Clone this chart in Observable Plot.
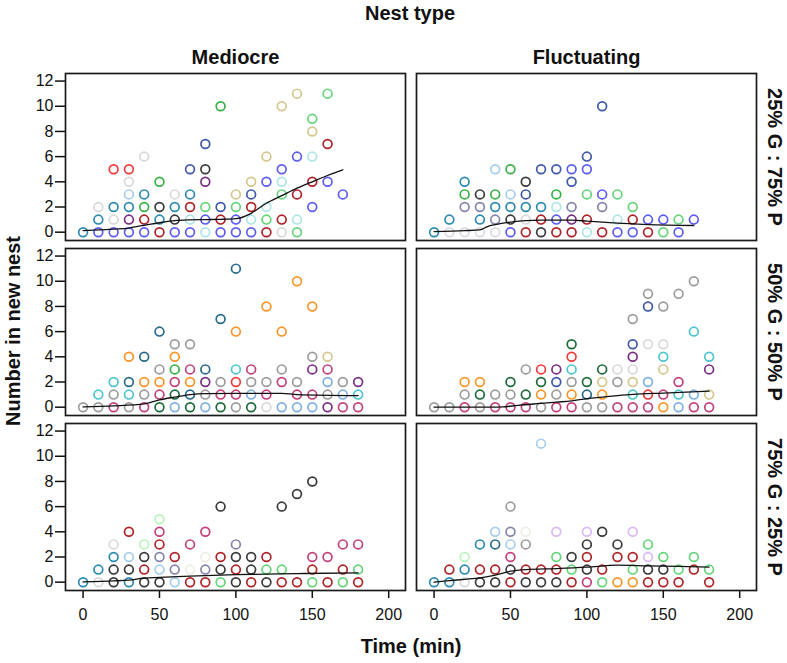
<!DOCTYPE html>
<html>
<head>
<meta charset="utf-8">
<script src="https://cdn.jsdelivr.net/npm/d3@7"></script>
<script src="https://cdn.jsdelivr.net/npm/@observablehq/plot@0.6"></script>
<style>
  html, body { margin: 0; padding: 0; background: #fff; }
</style>
</head>
<body>
<div id="chart"></div>
<script>
// ---- categories & ticks ----
const nestTypes = ["Mediocre", "Fluctuating"];
const ratios = ["25% G : 75% P", "50% G : 50% P", "75% G : 25% P"];
const xTicks = [0, 50, 100, 150, 200];
const yTicks = [0, 2, 4, 6, 8, 10, 12];

// ---- colony colours ----
const palette = {
  blue: "#5c5cf2", darkblue: "#3f58aa", teal: "#2b8ab0", darkteal: "#2a6a8a",
  lightblue: "#a6cdee", skyblue: "#7fb0e2", lightcyan: "#ade6e8", cyan: "#4ec5cf",
  red: "#ee3b3b", darkred: "#ad2327", green: "#37b046", mint: "#66d47a",
  lightgreen: "#b8f5b8", darkgreen: "#1d6a3a", lightgray: "#d9d9d9", lavgray: "#dadae6",
  gray: "#9c9c9c", darkgray: "#3a3a3a", purple: "#7a2e84", slate: "#8484ac",
  tan: "#d5c78e", orange: "#f8962b", pink: "#c3417b", lavender: "#dbb9f4", ivory: "#eeeee6"
};

// ---- points: [time (min), number in new nest, colony colour] ----
const mediocre25 = [
  [0,0,"teal"],[10,0,"blue"],[20,0,"blue"],[30,0,"blue"],[40,0,"blue"],[50,0,"darkred"],[60,0,"blue"],[70,0,"blue"],[80,0,"lightcyan"],[90,0,"blue"],[100,0,"blue"],[110,0,"blue"],[120,0,"darkred"],[130,0,"lightgray"],[140,0,"mint"],
  [10,1,"teal"],[20,1,"lightgray"],[30,1,"purple"],[40,1,"darkred"],[50,1,"teal"],[60,1,"darkgray"],[70,1,"lightcyan"],[80,1,"blue"],[90,1,"darkred"],[100,1,"blue"],[110,1,"lightcyan"],[120,1,"mint"],[130,1,"darkred"],[140,1,"lightcyan"],
  [10,2,"lightgray"],[20,2,"teal"],[30,2,"teal"],[40,2,"green"],[50,2,"darkgray"],[60,2,"teal"],[70,2,"darkred"],[80,2,"mint"],[90,2,"darkblue"],[100,2,"mint"],[110,2,"darkred"],[120,2,"lightcyan"],[150,2,"blue"],
  [30,3,"lightblue"],[40,3,"teal"],[60,3,"lightgray"],[70,3,"teal"],[100,3,"tan"],[110,3,"darkblue"],[130,3,"mint"],[140,3,"darkred"],[170,3,"blue"],
  [30,4,"lightgray"],[50,4,"green"],[80,4,"purple"],[110,4,"tan"],[120,4,"blue"],[130,4,"lightcyan"],[150,4,"darkred"],[160,4,"blue"],
  [20,5,"red"],[30,5,"red"],[70,5,"darkblue"],[80,5,"darkgray"],[130,5,"blue"],
  [40,6,"lightgray"],[120,6,"tan"],[140,6,"blue"],[150,6,"lightcyan"],
  [80,7,"darkblue"],[160,7,"darkred"],
  [150,8,"tan"],[150,9,"mint"],
  [90,10,"green"],[130,10,"tan"],
  [140,11,"tan"],[160,11,"mint"]
];
const fluctuating25 = [
  [0,0,"teal"],[10,0,"lavgray"],[20,0,"lavgray"],[30,0,"lavgray"],[40,0,"lavgray"],[50,0,"blue"],[60,0,"darkred"],[70,0,"darkgray"],[80,0,"darkred"],[90,0,"darkred"],[100,0,"lightcyan"],[110,0,"darkred"],[120,0,"blue"],[130,0,"blue"],[140,0,"darkred"],[150,0,"mint"],[160,0,"blue"],
  [10,1,"teal"],[30,1,"teal"],[40,1,"slate"],[50,1,"darkgray"],[60,1,"lightgray"],[70,1,"darkred"],[80,1,"blue"],[90,1,"purple"],[100,1,"darkred"],[120,1,"lightcyan"],[130,1,"darkred"],[140,1,"blue"],[150,1,"blue"],[160,1,"mint"],[170,1,"blue"],
  [20,2,"slate"],[30,2,"slate"],[40,2,"teal"],[50,2,"teal"],[60,2,"teal"],[70,2,"teal"],[80,2,"lightcyan"],[90,2,"slate"],[110,2,"slate"],[130,2,"mint"],
  [20,3,"green"],[30,3,"darkgray"],[40,3,"green"],[50,3,"lightblue"],[60,3,"darkblue"],[80,3,"green"],[100,3,"mint"],[110,3,"blue"],[120,3,"mint"],
  [20,4,"teal"],[60,4,"darkgray"],[90,4,"darkblue"],
  [40,5,"lightblue"],[50,5,"green"],[70,5,"darkblue"],[80,5,"darkblue"],[90,5,"blue"],[100,5,"blue"],
  [100,6,"darkblue"],
  [110,10,"darkblue"]
];
const mediocre50 = [
  [0,0,"gray"],[10,0,"gray"],[20,0,"pink"],[30,0,"gray"],[40,0,"pink"],[50,0,"darkgreen"],[60,0,"skyblue"],[70,0,"darkgreen"],[80,0,"skyblue"],[90,0,"darkgreen"],[100,0,"gray"],[110,0,"darkgreen"],[120,0,"lightgray"],[130,0,"skyblue"],[140,0,"skyblue"],[150,0,"skyblue"],[160,0,"purple"],[170,0,"pink"],[180,0,"pink"],
  [10,1,"cyan"],[20,1,"gray"],[30,1,"cyan"],[40,1,"gray"],[50,1,"pink"],[60,1,"darkgreen"],[70,1,"darkteal"],[80,1,"gray"],[90,1,"pink"],[100,1,"pink"],[110,1,"skyblue"],[120,1,"pink"],[140,1,"pink"],[150,1,"pink"],[160,1,"gray"],[170,1,"skyblue"],[180,1,"cyan"],
  [20,2,"cyan"],[30,2,"darkteal"],[40,2,"orange"],[50,2,"orange"],[60,2,"pink"],[70,2,"orange"],[80,2,"purple"],[90,2,"gray"],[100,2,"red"],[110,2,"gray"],[120,2,"gray"],[130,2,"pink"],[140,2,"gray"],[160,2,"skyblue"],[170,2,"gray"],[180,2,"purple"],
  [50,3,"gray"],[60,3,"green"],[70,3,"pink"],[80,3,"darkteal"],[100,3,"cyan"],[110,3,"pink"],[130,3,"gray"],[150,3,"purple"],[160,3,"pink"],
  [30,4,"orange"],[40,4,"darkteal"],[60,4,"orange"],[150,4,"gray"],[160,4,"tan"],
  [60,5,"gray"],[70,5,"gray"],
  [50,6,"darkteal"],[100,6,"orange"],[130,6,"orange"],
  [90,7,"darkteal"],
  [120,8,"orange"],[150,8,"orange"],
  [140,10,"orange"],
  [100,11,"darkteal"]
];
const fluctuating50 = [
  [0,0,"gray"],[10,0,"gray"],[20,0,"pink"],[30,0,"gray"],[40,0,"pink"],[50,0,"pink"],[60,0,"pink"],[70,0,"gray"],[80,0,"pink"],[90,0,"pink"],[100,0,"gray"],[110,0,"gray"],[120,0,"pink"],[130,0,"pink"],[140,0,"pink"],[150,0,"orange"],[160,0,"skyblue"],[170,0,"pink"],[180,0,"pink"],
  [20,1,"gray"],[30,1,"darkgreen"],[40,1,"gray"],[50,1,"gray"],[60,1,"darkgreen"],[70,1,"orange"],[80,1,"gray"],[90,1,"orange"],[100,1,"darkteal"],[110,1,"orange"],[130,1,"cyan"],[140,1,"red"],[150,1,"pink"],[160,1,"cyan"],[170,1,"skyblue"],[180,1,"tan"],
  [20,2,"orange"],[30,2,"orange"],[50,2,"darkgreen"],[70,2,"darkgreen"],[80,2,"darkblue"],[90,2,"gray"],[100,2,"darkgreen"],[110,2,"tan"],[120,2,"gray"],[130,2,"tan"],[140,2,"skyblue"],[160,2,"pink"],
  [60,3,"gray"],[70,3,"red"],[80,3,"purple"],[90,3,"cyan"],[110,3,"darkgreen"],[120,3,"lightgray"],[130,3,"lightgray"],[150,3,"tan"],[180,3,"purple"],
  [90,4,"red"],[130,4,"purple"],[150,4,"cyan"],[180,4,"cyan"],
  [90,5,"darkgreen"],[130,5,"darkblue"],[140,5,"lightgray"],[150,5,"lightgray"],
  [170,6,"cyan"],
  [130,7,"gray"],
  [140,8,"darkblue"],[150,8,"gray"],
  [140,9,"gray"],[160,9,"gray"],
  [170,10,"gray"]
];
const mediocre75 = [
  [0,0,"teal"],[10,0,"lightgray"],[20,0,"darkgray"],[30,0,"teal"],[40,0,"darkgray"],[50,0,"darkgray"],[60,0,"lightblue"],[70,0,"darkred"],[80,0,"darkred"],[90,0,"mint"],[100,0,"darkgray"],[110,0,"darkred"],[120,0,"darkgray"],[130,0,"darkred"],[140,0,"darkred"],[150,0,"mint"],[160,0,"darkred"],[170,0,"mint"],[180,0,"darkred"],
  [10,1,"teal"],[20,1,"darkgray"],[30,1,"darkgray"],[40,1,"darkred"],[50,1,"lightblue"],[60,1,"slate"],[70,1,"ivory"],[80,1,"slate"],[90,1,"darkgray"],[100,1,"darkred"],[110,1,"darkgray"],[120,1,"mint"],[130,1,"mint"],[150,1,"darkred"],[170,1,"darkred"],[180,1,"mint"],
  [20,2,"teal"],[30,2,"lightblue"],[40,2,"darkgray"],[50,2,"slate"],[60,2,"darkred"],[80,2,"ivory"],[90,2,"darkred"],[100,2,"darkgray"],[110,2,"darkgray"],[120,2,"darkred"],[150,2,"pink"],[160,2,"pink"],
  [20,3,"lightgray"],[40,3,"lightgreen"],[50,3,"darkred"],[70,3,"pink"],[100,3,"slate"],[170,3,"pink"],[180,3,"pink"],
  [30,4,"darkred"],[50,4,"pink"],[80,4,"pink"],
  [50,5,"lightgreen"],
  [90,6,"darkgray"],[130,6,"darkgray"],
  [140,7,"darkgray"],
  [150,8,"darkgray"]
];
const fluctuating75 = [
  [0,0,"teal"],[10,0,"teal"],[20,0,"lightgray"],[30,0,"darkgray"],[40,0,"darkgray"],[50,0,"darkred"],[60,0,"darkgray"],[70,0,"darkgray"],[80,0,"darkgray"],[90,0,"darkred"],[100,0,"pink"],[110,0,"mint"],[120,0,"orange"],[130,0,"orange"],[140,0,"darkred"],[150,0,"darkred"],[160,0,"darkred"],[180,0,"darkred"],
  [10,1,"darkred"],[20,1,"teal"],[30,1,"darkred"],[40,1,"darkred"],[50,1,"darkgray"],[60,1,"darkred"],[70,1,"darkred"],[80,1,"darkred"],[90,1,"mint"],[100,1,"darkgray"],[110,1,"darkred"],[130,1,"mint"],[140,1,"darkgray"],[150,1,"darkgray"],[160,1,"mint"],[170,1,"darkred"],[180,1,"mint"],
  [20,2,"lightgreen"],[50,2,"pink"],[80,2,"mint"],[90,2,"darkgray"],[100,2,"darkred"],[120,2,"darkred"],[130,2,"darkred"],[140,2,"lavender"],[150,2,"mint"],[170,2,"mint"],
  [30,3,"teal"],[40,3,"darkteal"],[50,3,"lightblue"],[60,3,"gray"],[100,3,"darkgray"],[120,3,"darkgray"],[140,3,"mint"],
  [40,4,"lightblue"],[50,4,"slate"],[60,4,"ivory"],[80,4,"lavender"],[100,4,"lavender"],[110,4,"darkgray"],[130,4,"lavender"],
  [50,6,"gray"],
  [70,11,"lightblue"]
];

// ---- smoothed trend lines: [time, fitted value] ----
const fitMediocre25 = [[0,0.13],[10,0.18],[20,0.24],[30,0.32],[35,0.45],[40,0.55],[50,0.75],[60,0.92],[70,0.98],[80,1.0],[90,1.02],[100,1.07],[110,1.5],[120,2.3],[130,2.9],[140,3.5],[150,4.0],[160,4.5],[170,4.95]];
const fitFluctuating25 = [[0,0.05],[20,0.12],[30,0.18],[35,0.45],[40,0.6],[50,0.8],[60,0.92],[70,0.95],[90,0.95],[100,0.88],[110,0.8],[120,0.72],[140,0.6],[170,0.53]];
const fitMediocre50 = [[0,0.02],[20,0.1],[40,0.26],[50,0.58],[60,0.8],[70,1.0],[80,1.08],[100,1.1],[130,1.1],[140,1.0],[180,0.92]];
const fitFluctuating50 = [[0,0],[20,0],[40,0],[45,0.02],[55,0.15],[70,0.3],[80,0.4],[90,0.5],[100,0.68],[110,0.8],[120,0.92],[130,1.02],[150,1.12],[180,1.27]];
const fitMediocre75 = [[0,0.02],[20,0.1],[30,0.16],[40,0.32],[50,0.38],[70,0.48],[100,0.6],[140,0.68],[180,0.74]];
const fitFluctuating75 = [[0,0],[10,0.12],[20,0.23],[30,0.35],[40,0.56],[50,0.87],[60,1.0],[80,1.08],[100,1.19],[120,1.35],[140,1.3],[180,1.2]];

// ---- assemble tables for Plot ----
const panels = [
  {nest: nestTypes[0], ratio: ratios[0], pts: mediocre25, fit: fitMediocre25},
  {nest: nestTypes[1], ratio: ratios[0], pts: fluctuating25, fit: fitFluctuating25},
  {nest: nestTypes[0], ratio: ratios[1], pts: mediocre50, fit: fitMediocre50},
  {nest: nestTypes[1], ratio: ratios[1], pts: fluctuating50, fit: fitFluctuating50},
  {nest: nestTypes[0], ratio: ratios[2], pts: mediocre75, fit: fitMediocre75},
  {nest: nestTypes[1], ratio: ratios[2], pts: fluctuating75, fit: fitFluctuating75}
];
const dots = panels.flatMap(p => p.pts.map(([t, v, c]) => ({nest: p.nest, ratio: p.ratio, t, v, c: palette[c]})));
const fits = panels.flatMap(p => p.fit.map(([t, v]) => ({nest: p.nest, ratio: p.ratio, t, v})));

const W = 787, H = 663;
const mT = 72.7, mB = 73, mL = 65, mR = 30;

const chart = Plot.plot({
  width: W, height: H,
  marginTop: mT, marginBottom: mB, marginLeft: mL, marginRight: mR,
  style: {fontFamily: "'Liberation Sans', Arial, sans-serif", fontSize: "16px", background: "white", color: "#111"},
  x: {domain: [-11.5, 211]},
  y: {domain: [-0.66, 12.6]},
  fx: {domain: nestTypes, paddingInner: 0.031, paddingOuter: 0},
  fy: {domain: ratios, paddingInner: 0.047, paddingOuter: 0},
  color: {type: "identity"},
  marks: [
    Plot.axisY({ticks: yTicks, tickSize: 10, tickPadding: 2, label: null, fontSize: 16, strokeWidth: 1.5}),
    Plot.axisX({ticks: xTicks, tickSize: 8, tickPadding: 10, label: null, fontSize: 16, strokeWidth: 1.5}),
    Plot.axisFx({anchor: "top", tickSize: 0, tickPadding: 9.4, label: null, fontSize: 20, fontWeight: "bold"}),
    Plot.axisFy({anchor: "right", tickSize: 0, tickPadding: 11, tickRotate: 90, textAnchor: "middle", lineAnchor: "bottom", label: null, fontSize: 20, fontWeight: "bold"}),
    Plot.frame({stroke: "#1a1a1a", strokeWidth: 1.7}),
    Plot.dot(dots, {x: "t", y: "v", fx: "nest", fy: "ratio", stroke: "c", r: 4.4, strokeWidth: 1.7}),
    Plot.line(fits, {x: "t", y: "v", fx: "nest", fy: "ratio", stroke: "#111", strokeWidth: 1.3, curve: "monotone-x"})
  ]
});

// overall titles
const svg = d3.select(chart);
const title = (txt, x, y, rot) => svg.append("text")
  .attr("transform", `translate(${x},${y})` + (rot ? ` rotate(${rot})` : ""))
  .attr("text-anchor", "middle")
  .attr("font-size", 20).attr("font-weight", "bold").attr("fill", "#111")
  .text(txt);
title("Nest type", 410, 19.5);
title("Time (min)", 411, 653);
title("Number in new nest", 20, 331, -90);

document.getElementById("chart").appendChild(chart);
</script>
</body>
</html>
